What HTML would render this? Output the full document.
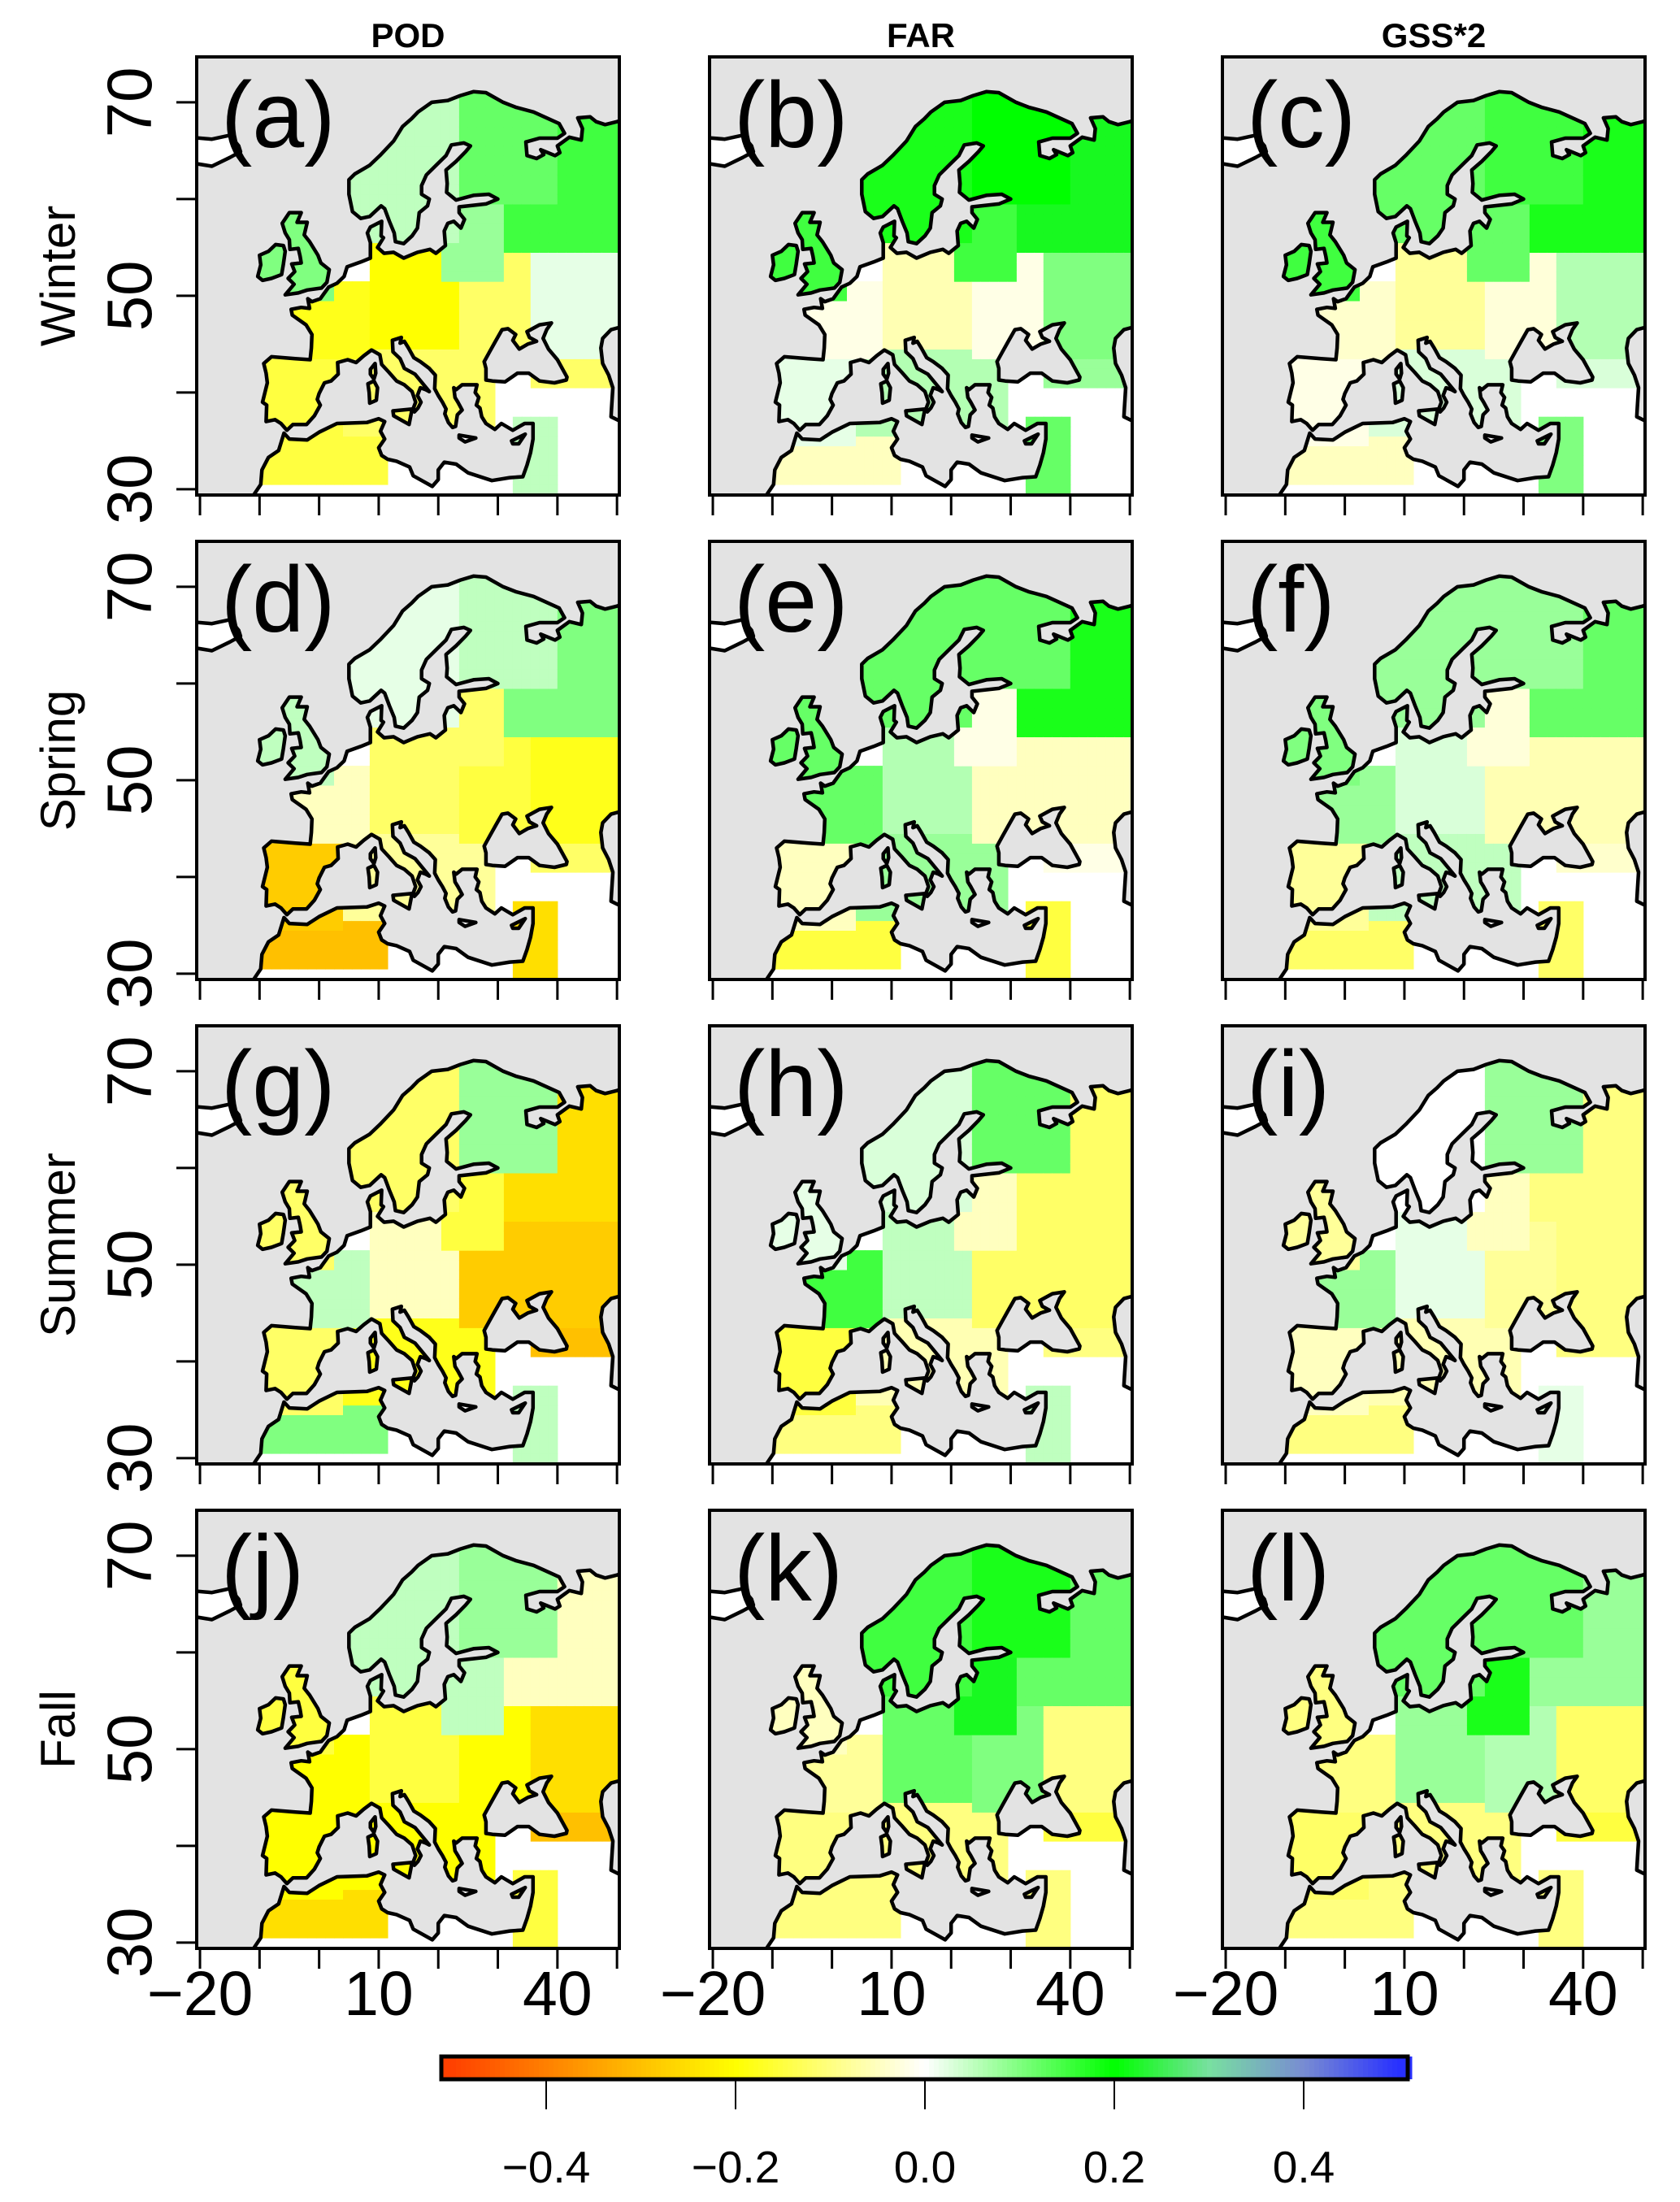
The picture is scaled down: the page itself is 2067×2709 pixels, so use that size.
<!DOCTYPE html>
<html><head><meta charset="utf-8">
<style>
html,body{margin:0;padding:0;background:#fff;}
svg{display:block;font-family:"Liberation Sans",Arial,sans-serif;}
</style></head>
<body>
<svg id="fig" width="2067" height="2709" viewBox="0 0 2067 2709" xmlns="http://www.w3.org/2000/svg">
<rect x="0" y="0" width="2067" height="2709" fill="#fff"/>
<defs id="defs"></defs>
<g id="panels"></g>
<g id="labels"></g>
<g id="colorbar"></g>
</svg>
<script>
// ---------- data ----------
const colTitles = ["POD","FAR","GSS*2"];
const rowTitles = ["Winter","Spring","Summer","Fall"];
const panelLetters = ["a","b","c","d","e","f","g","h","i","j","k","l"];
const lonTicks = [-20,-10,0,10,20,30,40,50];
const lonTickLabels = [-20,10,40];
const latTicks = [30,40,50,60,70];
const latTickLabels = [30,50,70];
const cbTicks = [-0.4,-0.2,0.0,0.2,0.4];
const cbTickLabels = ["\u22120.4","\u22120.2","0.0","0.2","0.4"];
// regions: [lonMin, lonMax, latMin, latMax] (first match wins)
const regionNames = ["karelia","russia-north","scandinavia","baltic-belarus","uk-ireland","france","germany-poland","ukraine","south-russia","iberia","italy-balkans","north-africa","levant","caucasus"];
const regionBoxes = [[24,40,60,72],[31,51,55,72],[4,24,56,72],[20,31,52,60],[-11,2,50,59.5],[-5,8,43.5,52],[8,24,45,56],[24,36,44,55],[36,51,44,55],[-10,3.5,35,43.5],[3.5,30,36,45],[-10,12,31,36],[33,40,29.5,38],[36,51,41,44]];
// per-panel region values (same order as regionNames)
const valsA = [0.12,0.15,0.05,0.08,0.1,-0.18,-0.2,-0.12,0.02,-0.15,-0.12,-0.15,0.05,-0.12];
const valsB = [0.2,0.22,0.18,0.15,0.15,-0.02,-0.06,-0.02,0.1,0.02,0.06,-0.05,0.12,0.08];
const valsC = [0.15,0.18,0.12,0.12,0.15,-0.04,-0.08,-0.03,0.06,-0.02,0.03,-0.05,0.1,0.03];
const valsD = [0.05,0.1,0.02,-0.12,0.05,-0.05,-0.12,-0.15,-0.18,-0.28,-0.08,-0.3,-0.25,-0.12];
const valsE = [0.12,0.18,0.12,-0.02,0.12,0.12,0.06,-0.05,-0.05,-0.05,0.08,-0.15,-0.15,-0.02];
const valsF = [0.08,0.12,0.08,-0.03,0.1,0.08,0.03,-0.06,-0.06,-0.08,0.05,-0.12,-0.12,-0.04];
const valsG = [0.08,-0.25,-0.12,-0.15,-0.12,0.05,-0.05,-0.28,-0.28,-0.12,-0.18,0.1,0.05,-0.3];
const valsH = [0.12,-0.12,0.03,-0.05,0.02,0.15,0.05,-0.12,-0.12,-0.15,-0.06,-0.1,0.05,-0.1];
const valsI = [0.08,-0.1,0.0,-0.05,-0.08,0.08,0.02,-0.08,-0.1,-0.05,-0.06,-0.1,0.02,-0.1];
const valsJ = [0.08,-0.05,0.05,0.05,-0.15,-0.2,-0.15,-0.2,-0.25,-0.2,-0.2,-0.25,-0.15,-0.3];
const valsK = [0.18,0.12,0.15,0.22,-0.05,-0.08,0.12,0.1,-0.1,-0.1,-0.1,-0.1,-0.1,-0.15];
const valsL = [0.12,0.08,0.12,0.18,-0.1,-0.1,0.08,0.06,-0.12,-0.12,-0.1,-0.1,-0.1,-0.15];
const panelVals = [valsA,valsB,valsC,valsD,valsE,valsF,valsG,valsH,valsI,valsJ,valsK,valsL];

// ---------- geometry (coastline lon/lat) ----------
const eurasia = [[-11,29.4],[-9.8,30.5],[-9.6,32],[-8.5,33.3],[-6.8,34],[-5.9,35.8],[-5,35.2],[-2,35.1],[0,35.9],[3,36.8],[8,36.9],[10,37.3],[11,37],[10.3,36],[11,35.2],[10,34.3],[10.5,33.5],[11.5,33.1],[13,32.9],[15.2,32.3],[15.8,31.4],[19,30.3],[20,31],[20,32],[21,32.8],[23,32.6],[25,31.7],[29,30.9],[32,31.2],[34.2,31.3],[34.9,32.5],[35.5,33.8],[35.9,35.2],[35.9,36.8],[34.5,36.8],[32.5,36.1],[30.6,36.8],[29.5,36.2],[28,36.8],[27.3,37.5],[27,38.4],[26.4,38.7],[26.8,39.5],[26.2,40],[26.5,40.8],[24,40.8],[23,40.3],[22.6,40.5],[22.8,39.5],[23.3,39],[24,38.2],[23.2,37.7],[22.9,36.5],[22.4,36.4],[21.7,36.9],[21.1,37.8],[21.3,38.3],[20.7,39],[20,39.7],[19.4,40.4],[19.5,41.8],[18.5,42.5],[17,43.2],[15.9,43.6],[15,44.6],[14.3,45.3],[13.6,45.1],[13.8,45.7],[12.3,45.4],[12.4,44.2],[13.6,43.5],[14.3,42.5],[16.1,41.9],[18.5,40.1],[17.9,40.3],[17,40.5],[16.5,39.7],[17.1,39],[16.6,38.4],[16,38],[15.7,38.2],[16.2,39],[15.6,40.1],[14.3,40.8],[13,41.2],[11.7,42.1],[10.5,42.9],[10.2,43.9],[8.8,44.4],[7.5,43.8],[6.2,43.1],[4.8,43.4],[3.1,43.1],[3.2,41.9],[2,41.2],[0.9,41],[0,39.9],[-0.3,39.3],[0.2,38.7],[-0.8,37.6],[-2.1,36.7],[-4.4,36.7],[-5.4,36.1],[-6.4,36.8],[-7.4,37.2],[-8.9,37],[-8.8,38.7],[-9.5,39],[-8.7,41],[-8.9,42],[-9.3,43],[-8,43.7],[-4,43.5],[-1.5,43.4],[-1.3,44.6],[-1.2,46],[-2.2,47],[-4.5,48],[-4.7,48.6],[-3,48.8],[-1.6,48.7],[-1.9,49.7],[-1.2,49.4],[0.2,49.7],[1.6,50.9],[3,51.3],[4.2,52],[4.7,53],[7,53.5],[8.6,53.9],[8.6,55.5],[8.1,56.5],[8.6,57.1],[10.5,57.7],[10.4,56.2],[10.8,56],[9.8,55],[10.9,54.4],[12.5,54.5],[14.2,53.9],[16.5,54.5],[18.6,54.8],[19.6,54.4],[21.2,55.2],[21,56.7],[21.6,57.5],[22.6,57.7],[23.8,57],[24.4,57.9],[23.5,58.6],[23.5,59.2],[28,59.5],[30,60],[28.5,60.5],[26,60.4],[23,59.9],[21.4,60.7],[21.5,61.6],[21.3,63],[23,63.9],[24.6,64.9],[25.4,65.5],[24.3,65.8],[22.2,65.6],[21.3,64.5],[19.8,63.6],[18,62.5],[17.2,61.4],[17.2,60.5],[18.5,60],[18.2,59.3],[16.8,58.6],[16.5,57],[15.6,56.2],[14.2,55.4],[12.8,55.6],[12.6,56.5],[11.8,57.7],[11,59],[10.4,59.3],[8.5,58.2],[7,58],[5.6,58.7],[5,60.5],[5,62],[6,62.6],[8.5,63.5],[10.2,64.5],[12.5,66],[14,67.5],[15.5,68.3],[16.6,69],[18.9,70],[21.6,70.2],[23.7,70.7],[25.9,71.1],[28,71],[30.9,70],[33,69.5],[36,69],[40.3,67.8],[41.2,66.8],[40,66.3],[37,66.3],[34.7,65.9],[34.9,64.5],[36.5,64.2],[37.7,64.6],[37.2,65.1],[39.6,64.5],[40.4,64.8],[40,65.5],[42,66.4],[44,66.1],[44.2,67.3],[43.4,68.4],[45.5,68.5],[46.5,68],[48,67.7],[50,68],[52,68.5],[52,29],[-11,29]];
const gb = [[-5,58.6],[-3,58.6],[-3.7,57.6],[-2,57.6],[-2.5,56.3],[-1.6,55.6],[-0.2,54.2],[0.3,53.4],[1.7,52.7],[1.3,51.4],[0.4,50.8],[-2,50.6],[-3.5,50.3],[-5.7,50.1],[-4.2,51.2],[-5.2,51.8],[-4.1,52.5],[-4.6,53.3],[-3,53.4],[-3.2,54.1],[-3.5,54.9],[-4.9,54.8],[-5,55.8],[-5.7,56.5],[-6.2,57.5]];
const ireland = [[-6,55.2],[-7.3,55.3],[-8.5,54.6],[-10,54.2],[-9.8,53.2],[-10.3,52],[-9.5,51.6],[-8,51.8],[-6.3,52.2],[-6,53.3],[-5.7,54.6]];
const iceland = [[-22,66.4],[-18,66.2],[-15,66.6],[-13.5,65.5],[-13.2,64.9],[-15,64.3],[-18,63.4],[-22,63.8]];
const corsica = [[9.4,43],[9.5,42],[9.2,41.4],[8.6,41.9],[8.6,42.4]];
const sardinia = [[9.2,41.2],[9.8,40.5],[9.6,39.2],[8.5,38.9],[8.4,40],[8.2,40.9]];
const sicily = [[12.4,38.1],[15.6,38.3],[15.1,36.7],[12.5,37.6]];
const crete = [[23.5,35.6],[26.3,35.3],[24.5,34.9],[23.5,35.3]];
const cyprus = [[32.3,35],[34.6,35.7],[33.5,34.7],[32.5,34.7]];
const blackSea = [[28,41.3],[28,42.5],[27.7,43.2],[28.6,44.2],[29.6,45.3],[30.7,46.5],[31.7,46.6],[33,46],[32.5,45.4],[33.6,44.5],[35,45],[36.5,45.3],[35.3,45.7],[34.9,46.3],[37,47],[39,47.2],[38.2,46.5],[37.6,45.6],[38.5,44.5],[40,43.4],[41.6,41.6],[41.5,41.3],[39.5,41],[37,41.2],[35.2,42],[33.3,42],[31.2,41.1],[29.1,41.2]];
const caspian = [[52,47],[49,46.5],[47.6,45.6],[47.3,44.6],[47.6,43],[48.6,41.8],[49.3,40.5],[49.1,38.5],[49,37.5],[50.3,37.1],[52,36.8]];

// ---------- layout ----------
const colX = [242,873,1504];
const rowY = [70,666,1262,1858];
const PW = 520, PH = 539;
const LON0 = -20.55, LAT1 = 74.7, PXLON = 7.33, PXLAT = 11.9;
const X = lon => (lon - LON0) * PXLON;
const Y = lat => (LAT1 - lat) * PXLAT;
const NS = "http://www.w3.org/2000/svg";
function mk(tag, attrs, parent){ const e=document.createElementNS(NS,tag); for(const k in attrs) e.setAttribute(k,attrs[k]); if(parent) parent.appendChild(e); return e; }
const pts = arr => arr.map(p => X(p[0]).toFixed(1)+","+Y(p[1]).toFixed(1)).join(" ");

const cStops = [[-0.5,[255,64,0]],[-0.35,[255,160,0]],[-0.2,[255,255,0]],[0,[255,255,255]],[0.2,[0,255,0]],[0.3,[120,224,160]],[0.4,[120,140,210]],[0.5,[40,48,255]]];
function cmap(v){
  if(v<=cStops[0][0]) return "rgb("+cStops[0][1]+")";
  for(let i=1;i<cStops.length;i++){ if(v<=cStops[i][0]){ const a=cStops[i-1],b=cStops[i],t=(v-a[0])/(b[0]-a[0]); return "rgb("+a[1].map((c,k)=>Math.round(c+(b[1][k]-c)*t)).join(",")+")"; } }
  return "rgb("+cStops[cStops.length-1][1]+")";
}

const defs = document.getElementById("defs");
const landClip = mk("clipPath",{id:"landclip"},defs);
[eurasia,gb,ireland,iceland,corsica,sardinia,sicily,crete,cyprus].forEach(p=>mk("polygon",{points:pts(p)},landClip));
const panelClip = mk("clipPath",{id:"panelclip"},defs);
mk("rect",{x:0,y:0,width:PW,height:PH},panelClip);

const panelsG = document.getElementById("panels");
const labelsG = document.getElementById("labels");

function regionOf(lon,lat){
  for(let i=0;i<regionBoxes.length;i++){ const b=regionBoxes[i]; if(lon>=b[0]&&lon<b[1]&&lat>=b[2]&&lat<b[3]) return i; }
  return -1;
}

for(let r=0;r<4;r++){
  for(let c=0;c<3;c++){
    const idx = r*3+c;
    const g = mk("g",{transform:`translate(${colX[c]},${rowY[r]})`},panelsG);
    
    
    const inner = mk("g",{"clip-path":"url(#panelclip)"},g);
    mk("rect",{x:0,y:0,width:PW,height:PH,fill:"#e3e3e3"},inner);
    const land = mk("g",{},inner);
    [eurasia,gb,ireland,iceland,corsica,sardinia,sicily,crete,cyprus].forEach(p=>mk("polygon",{points:pts(p),fill:"#fff",stroke:"none"},land));
    const cells = mk("g",{"clip-path":"url(#landclip)"},inner);
    
    
    const vals = panelVals[idx];
    for(let lon=-11; lon<51; lon+=1.5){
      for(let lat=29.5; lat<72; lat+=1){
        const ri = regionOf(lon+0.75, lat+0.5);
        if(ri<0) continue;
        mk("rect",{x:X(lon).toFixed(1),y:Y(lat+1).toFixed(1),width:(1.5*PXLON+0.6).toFixed(1),height:(PXLAT+0.6).toFixed(1),fill:cmap(vals[ri])},cells);
      }
    }
    [blackSea,caspian].forEach(p=>mk("polygon",{points:pts(p),fill:"#e3e3e3",stroke:"#000","stroke-width":4.5,"stroke-linejoin":"round"},inner));
    const coast = mk("g",{fill:"none",stroke:"#000","stroke-width":4.5,"stroke-linejoin":"round"},inner);
    
    
    [eurasia,gb,ireland,iceland,corsica,sardinia,sicily,crete,cyprus].forEach(p=>mk("polygon",{points:pts(p)},coast));
    mk("rect",{x:0,y:0,width:PW,height:PH,fill:"none",stroke:"#000","stroke-width":4},g);
    const lab = mk("text",{x:30,y:111,"font-size":115,fill:"#000"},g);
    lab.textContent = "("+panelLetters[idx]+")";
    
    
    lonTicks.forEach(t=>{ const tx=X(t); mk("line",{x1:tx,x2:tx,y1:PH,y2:PH+25,stroke:"#000","stroke-width":3},g); });
    if(c===0){
      latTicks.forEach(t=>{ const ty=Y(t); mk("line",{x1:-25,x2:0,y1:ty,y2:ty,stroke:"#000","stroke-width":3},g); });
      latTickLabels.forEach(t=>{
        const ty=Y(t);
        const tl = mk("text",{x:0,y:0,"font-size":78,"text-anchor":"middle",transform:`translate(${158-colX[0]+28},${ty}) rotate(-90)`},g);
        tl.textContent = String(t);
        
        
      });
    }
    if(r===3){
      lonTickLabels.forEach(t=>{
        const tl = mk("text",{x:X(t),y:PH+82,"font-size":77,"text-anchor":"middle"},g);
        tl.textContent = (t<0?"\u2212":"")+Math.abs(t);
        
        
      });
    }
  }
}
colTitles.forEach((t,c)=>{
  const e = mk("text",{x:colX[c]+PW/2,y:58,"font-size":42,"font-weight":"bold","text-anchor":"middle"},labelsG);
  e.textContent = t;
  
  
});
rowTitles.forEach((t,r)=>{
  const cy = rowY[r]+PH/2;
  const e = mk("text",{x:0,y:0,"font-size":60,"text-anchor":"middle",transform:`translate(92,${cy}) rotate(-90)`},labelsG);
  e.textContent = t;
  
  
});

const cb = document.getElementById("colorbar");
const CBX0=543, CBX1=1732, CBY=2530, CBH=28, CB0=1138, CBPER=233/0.2;
const cbV = x => (x-CB0)/CBPER;
const cbX = v => CB0 + v*CBPER;
for(let x=CBX0; x<CBX1; x+=6){
  mk("rect",{x:x,y:CBY,width:6.5,height:CBH,fill:cmap(cbV(x+3))},cb);
}
mk("rect",{x:CBX0,y:CBY,width:CBX1-CBX0,height:CBH,fill:"none",stroke:"#000","stroke-width":5},cb);
cbTicks.forEach((t,i)=>{
  const tx = cbX(t);
  mk("line",{x1:tx,x2:tx,y1:CBY+CBH,y2:2595,stroke:"#000","stroke-width":2},cb);
  const tl = mk("text",{x:tx,y:2685,"font-size":55,"text-anchor":"middle"},cb);
  tl.textContent = cbTickLabels[i];
  
  
});
</script>
</body></html>
